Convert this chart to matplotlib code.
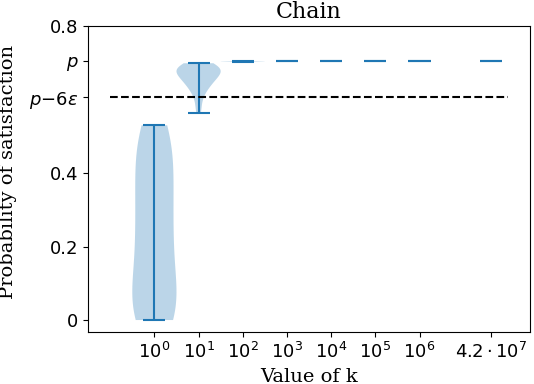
import matplotlib
matplotlib.use("Agg")
import matplotlib.pyplot as plt
import numpy as np

# Values of k (plotted on log10 positions) and sampled satisfaction probabilities
K_VALUES = [1, 10, 100, 1000, 10000, 100000, 1000000, 4.2e7]
K_LABELS = [r"$10^0$", r"$10^1$", r"$10^2$", r"$10^3$", r"$10^4$",
            r"$10^5$", r"$10^6$", r"$4.2\cdot10^7$"]

P = 0.705
P_MINUS_6EPS = 0.607

SAT_K1 = [0.0, 0.0, 0.0, 0.0, 0.01, 0.02, 0.03, 0.04, 0.06, 0.08, 0.10,
          0.12, 0.14, 0.16, 0.18, 0.20, 0.22, 0.24, 0.26, 0.28, 0.30,
          0.32, 0.34, 0.36, 0.38, 0.40, 0.42, 0.44, 0.46, 0.48, 0.50,
          0.51, 0.52, 0.53]
SAT_K10 = [0.563, 0.585, 0.605, 0.618, 0.626, 0.633, 0.639, 0.644, 0.648,
           0.652, 0.656, 0.66, 0.663, 0.666, 0.669, 0.672, 0.675, 0.678,
           0.68, 0.682, 0.684, 0.686, 0.688, 0.69, 0.692, 0.694, 0.696,
           0.699]
SAT_K100 = [0.702, 0.704, 0.705, 0.705, 0.705]
SAT_K1000 = [0.705, 0.705, 0.705]
SAT_K1E4 = [0.705, 0.705, 0.705]
SAT_K1E5 = [0.705, 0.705, 0.705]
SAT_K1E6 = [0.705, 0.705, 0.705]
SAT_K42E6 = [0.705, 0.705, 0.705]

samples = [SAT_K1, SAT_K10, SAT_K100, SAT_K1000, SAT_K1E4,
           SAT_K1E5, SAT_K1E6, SAT_K42E6]
positions = np.log10(K_VALUES)

fig = plt.figure(figsize=(5.34, 3.84), dpi=100)
ax = fig.add_axes([0.165, 0.135, 0.8275, 0.797])

ax.violinplot(samples, positions=positions, widths=1.0)
ax.hlines(P_MINUS_6EPS, -1.0, 8.0, colors="black", linestyles="--", lw=1.5)

ax.set_xlim(-1.5, 8.5)
ax.set_ylim(-0.033, 0.8)
ax.set_xticks(positions)
ax.set_xticklabels(K_LABELS, fontsize=13)
ax.set_yticks([0, 0.2, 0.4, P_MINUS_6EPS, P, 0.8])
ax.set_yticklabels(["0", "0.2", "0.4", r"$p{-}6\varepsilon$", r"$p$", "0.8"],
                   fontsize=13)

ax.set_title("Chain", family="DejaVu Serif", fontsize=16)
ax.set_xlabel("Value of k", family="DejaVu Serif", fontsize=14)
ax.set_ylabel("Probability of satisfaction", family="DejaVu Serif", fontsize=14)
ax.yaxis.set_label_coords(-0.16, 0.525)

fig.savefig("out.png", dpi=100)
